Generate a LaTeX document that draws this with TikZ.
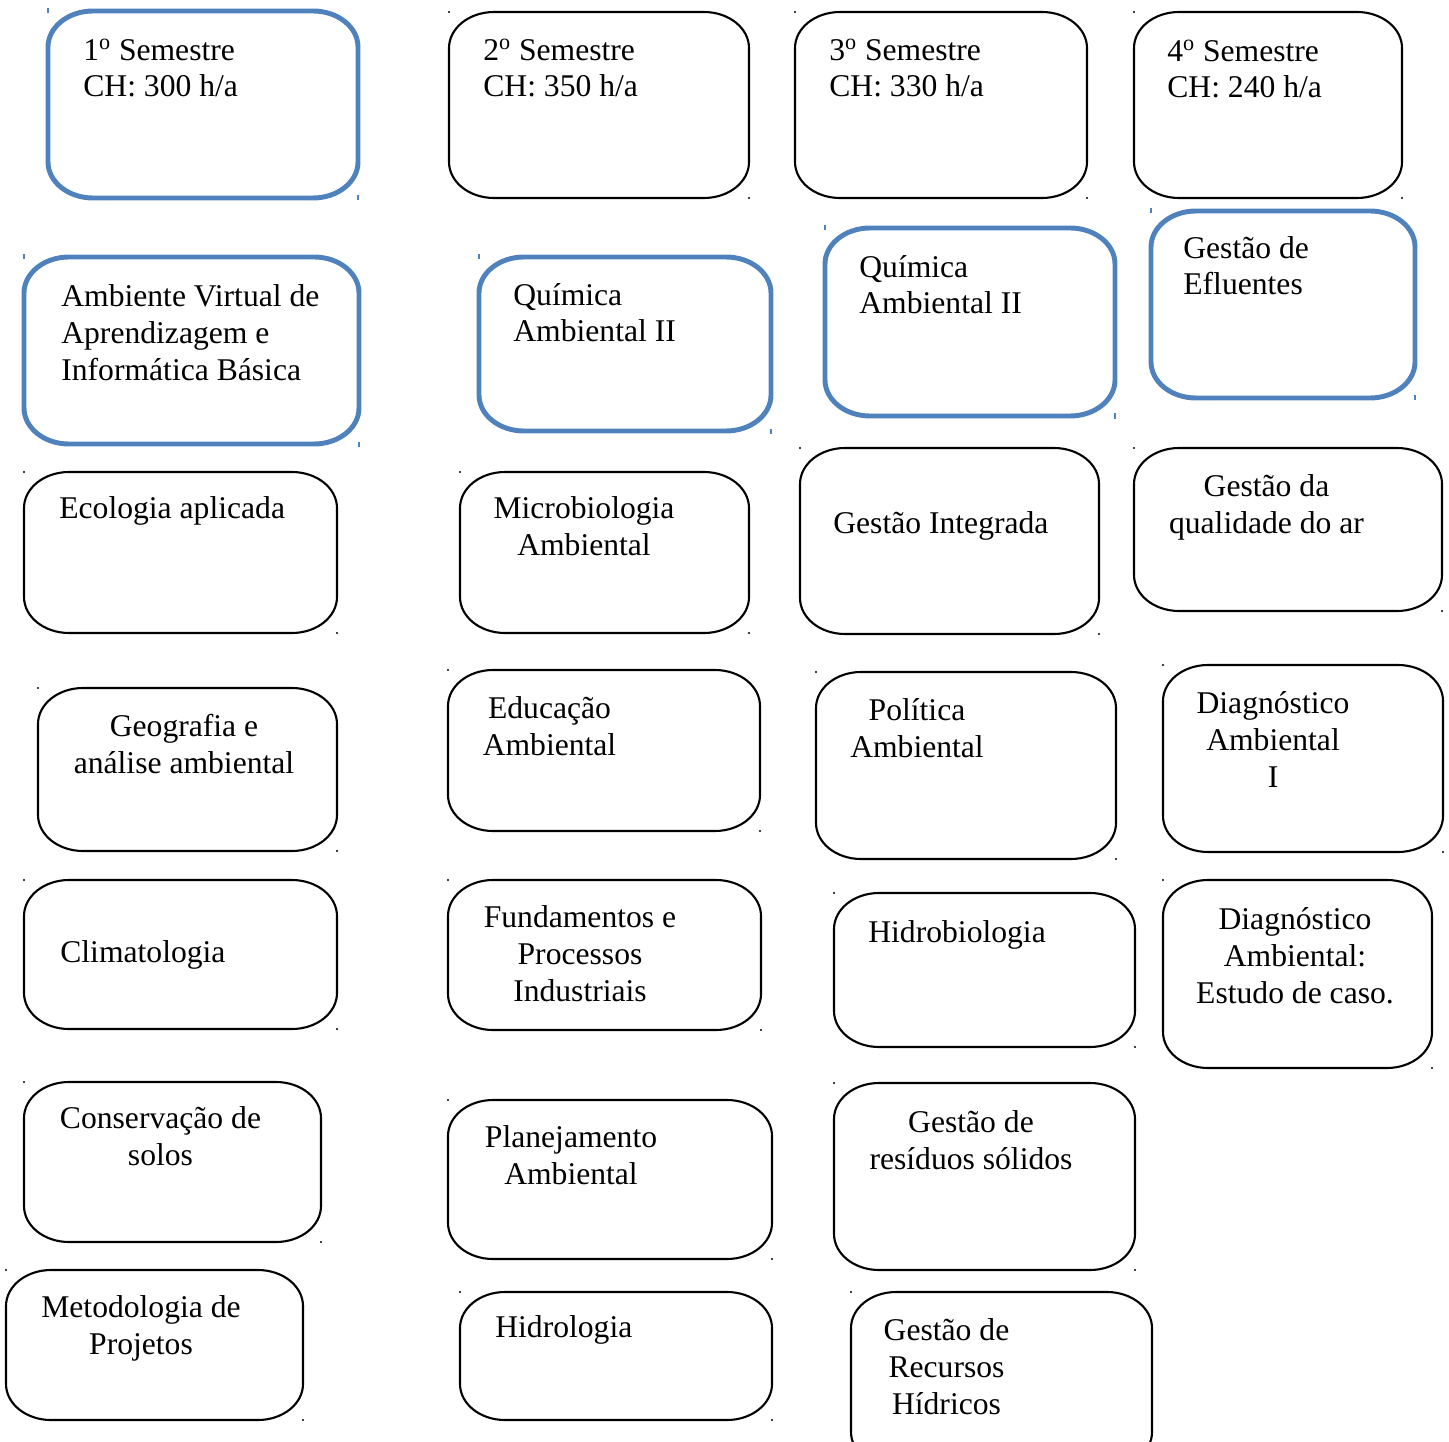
\documentclass[tikz,border=0pt]{standalone}
\usepackage{fontspec}
\setmainfont{Liberation Serif}
\tikzstyle{plan} = [x = .02cm, y = -.02cm]
\definecolor{boxBlue}{RGB}{79,129,189}
\tikzstyle{boxStyle} = [color=black, line width=1.2pt]
\tikzstyle{blueBoxStyle} = [color=boxBlue, line width=2.8pt]
\tikzstyle{boxText} = [font=\fontsize{18}{21}\selectfont, inner sep=0pt, text=black]
\newcommand{\cornerX}{.9cm}
\newcommand{\cornerY}{.72cm}
\newcommand{\roundBox}[5]{\draw [#1] (#2 + 45, #3) -- (#4 - 45, #3)
  arc [start angle = 90, end angle = 0, x radius = \cornerX, y radius = \cornerY] -- (#4, #5 - 36)
  arc [start angle = 0, end angle = -90, x radius = \cornerX, y radius = \cornerY] -- (#2 + 45, #5)
  arc [start angle = -90, end angle = -180, x radius = \cornerX, y radius = \cornerY] -- (#2, #3 + 36)
  arc [start angle = 180, end angle = 90, x radius = \cornerX, y radius = \cornerY] -- cycle;}
\newcommand{\courseBox}[4]{
  \roundBox{boxStyle}{#1}{#2}{#3}{#4}
  \fill (#1, #2) circle [radius = .6pt];
  \fill (#3, #4) circle [radius = .6pt];
}
\newcommand{\blueCourseBox}[4]{
  \roundBox{blueBoxStyle}{#1}{#2}{#3}{#4}
  \draw [boxBlue, line width = .7pt] (#1, #2 - 2.5) -- (#1, #2 + 2.5);
  \draw [boxBlue, line width = .7pt] (#3, #4 - 2.5) -- (#3, #4 + 2.5);
}
% the base anchor of a node is the baseline of its last line
\newcommand{\leftText}[4]{\node [boxText, anchor = base west, align = left] (#1) at (#2, #3) {#4};}
\newcommand{\centerText}[4]{\node [boxText, anchor = base, align = center] (#1) at (#2, #3) {#4};}

\begin{document}
\begin{tikzpicture}[plan]
  \useasboundingbox (0,0) rectangle (1449,1442);

  \blueCourseBox{48}{11}{358}{198}
  \blueCourseBox{24}{257}{359}{444}
  \courseBox{24}{472}{337}{633}
  \courseBox{38}{688}{337}{851}
  \courseBox{24}{880}{337}{1029}
  \courseBox{24}{1082}{321}{1242}
  \courseBox{6}{1270}{303}{1420}
  \leftText{sem1}{83}{97}{1\textsuperscript{o} Semestre\\CH: 300 h/a}
  \leftText{ava}{61}{380}{Ambiente Virtual de\\Aprendizagem e\\Informática Básica}
  \leftText{ecologia}{59}{518}{Ecologia aplicada}
  \centerText{geografia}{184}{773}{Geografia e\\análise ambiental}
  \leftText{climatologia}{60}{962}{Climatologia}
  \centerText{conservacao}{160.5}{1165}{Conservação de\\solos}
  \centerText{metodologia}{141}{1354}{Metodologia de\\Projetos}

  \courseBox{449}{12}{749}{198}
  \blueCourseBox{479}{257}{771}{431}
  \courseBox{460}{472}{749}{633}
  \courseBox{448}{670}{760}{831}
  \courseBox{448}{880}{761}{1030}
  \courseBox{448}{1100}{772}{1259}
  \courseBox{460}{1292}{772}{1420}
  \leftText{sem2}{483}{97}{2\textsuperscript{o} Semestre\\CH: 350 h/a}
  \leftText{quimicaA}{513}{342}{Química\\Ambiental II}
  \centerText{microbio}{584}{555}{Microbiologia\\Ambiental}
  \centerText{educacao}{549.5}{755}{Educação\\Ambiental}
  \centerText{fundamentos}{580}{1001}{Fundamentos e\\Processos\\Industriais}
  \centerText{planejamento}{571}{1184}{Planejamento\\Ambiental}
  \leftText{hidrologia}{495}{1337}{Hidrologia}

  \courseBox{795}{12}{1087}{198}
  \blueCourseBox{825}{228}{1115}{416}
  \courseBox{800}{448}{1099}{634}
  \courseBox{816}{672}{1116}{859}
  \courseBox{834}{893}{1135}{1047}
  \courseBox{834}{1083}{1135}{1270}
  \courseBox{851}{1292}{1152}{1468}
  \leftText{sem3}{829}{97}{3\textsuperscript{o} Semestre\\CH: 330 h/a}
  \leftText{quimicaB}{859}{314}{Química\\Ambiental II}
  \leftText{gestaoInt}{833}{533}{Gestão Integrada}
  \centerText{politica}{917}{757}{Política\\Ambiental}
  \leftText{hidrobio}{868}{942}{Hidrobiologia}
  \centerText{residuos}{971}{1169}{Gestão de\\resíduos sólidos}
  \centerText{recursos}{946.5}{1414}{Gestão de\\Recursos\\Hídricos}

  \courseBox{1134}{12}{1402}{198}
  \blueCourseBox{1151}{211}{1415}{398}
  \courseBox{1134}{448}{1442}{611}
  \courseBox{1163}{665}{1443}{852}
  \courseBox{1163}{880}{1432}{1068}
  \leftText{sem4}{1167}{98}{4\textsuperscript{o} Semestre\\CH: 240 h/a}
  \leftText{efluentes}{1183}{295}{Gestão de\\Efluentes}
  \centerText{qualidadeAr}{1266.5}{533}{Gestão da\\qualidade do ar}
  \centerText{diagI}{1273}{787}{Diagnóstico\\Ambiental\\I}
  \centerText{diagCaso}{1295}{1003}{Diagnóstico\\Ambiental:\\Estudo de caso.}
\end{tikzpicture}
\end{document}
